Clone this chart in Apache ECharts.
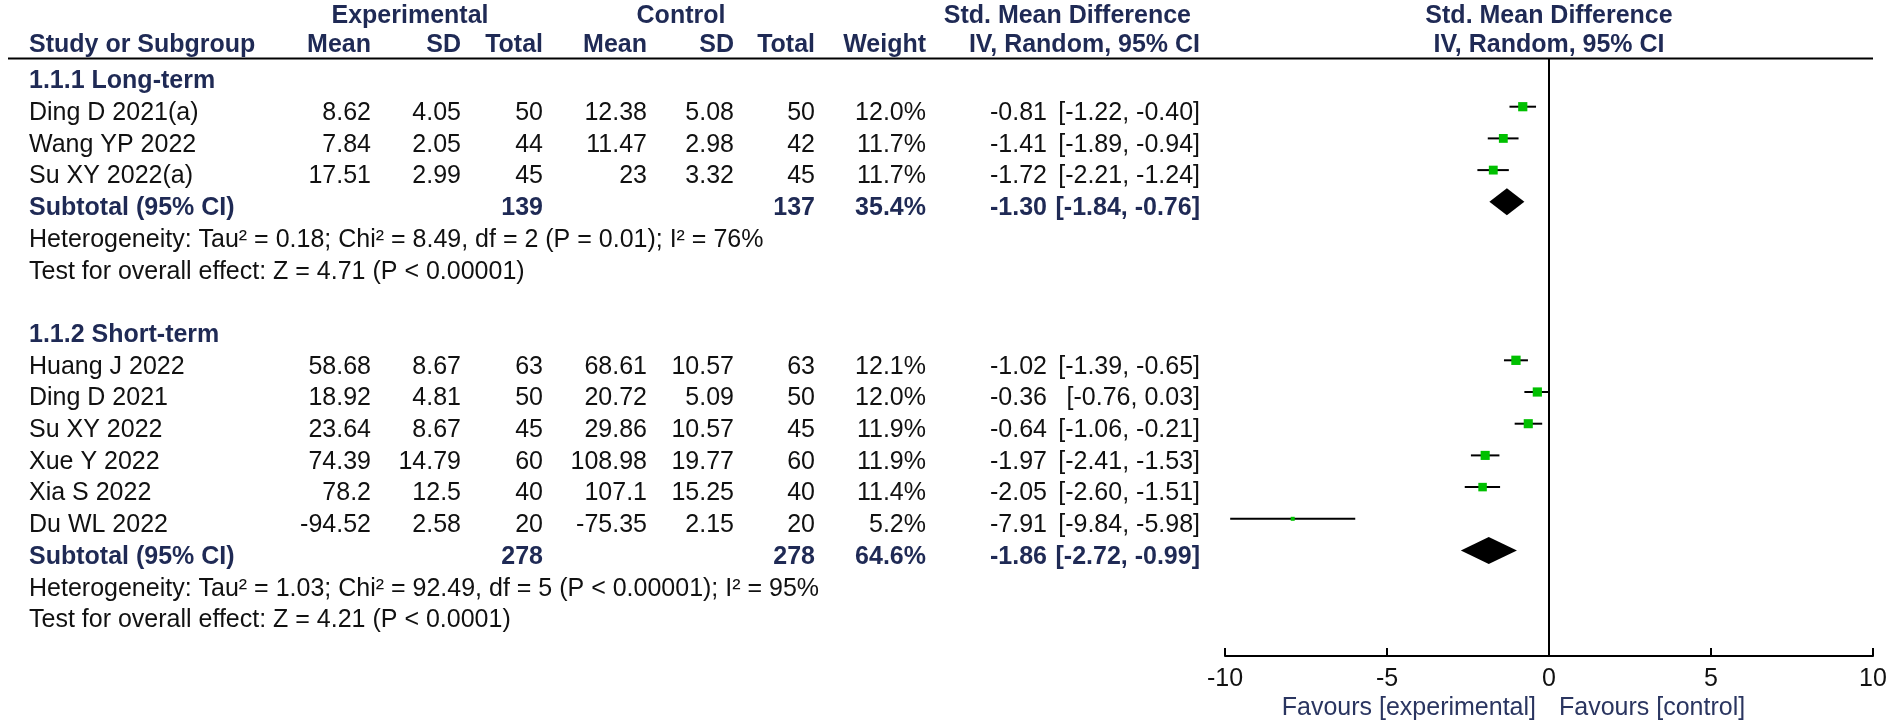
<!DOCTYPE html>
<html>
<head>
<meta charset="utf-8">
<script src="https://cdn.jsdelivr.net/npm/echarts@6/dist/echarts.min.js"></script>
<style>
html,body{margin:0;padding:0;background:#fff;}
#chart{width:1902px;height:727px;}
</style>
</head>
<body>
<div id="chart"></div>
<script>
// ---------------- DATA ----------------
const groupNames = ['1.1.1 Long-term', '1.1.2 Short-term'];
const studyNames = ['Ding D 2021(a)', 'Wang YP 2022', 'Su XY 2022(a)',
  'Huang J 2022', 'Ding D 2021', 'Su XY 2022', 'Xue Y 2022', 'Xia S 2022', 'Du WL 2022'];
const studyGroup = [0, 0, 0, 1, 1, 1, 1, 1, 1];
const expMean = [8.62, 7.84, 17.51, 58.68, 18.92, 23.64, 74.39, 78.2, -94.52];
const expSD = [4.05, 2.05, 2.99, 8.67, 4.81, 8.67, 14.79, 12.5, 2.58];
const expTotal = [50, 44, 45, 63, 50, 45, 60, 40, 20];
const ctrlMean = [12.38, 11.47, 23, 68.61, 20.72, 29.86, 108.98, 107.1, -75.35];
const ctrlSD = [5.08, 2.98, 3.32, 10.57, 5.09, 10.57, 19.77, 15.25, 2.15];
const ctrlTotal = [50, 42, 45, 63, 50, 45, 60, 40, 20];
const weights = [12.0, 11.7, 11.7, 12.1, 12.0, 11.9, 11.9, 11.4, 5.2];
const smd = [-0.81, -1.41, -1.72, -1.02, -0.36, -0.64, -1.97, -2.05, -7.91];
const ciLow = [-1.22, -1.89, -2.21, -1.39, -0.76, -1.06, -2.41, -2.60, -9.84];
const ciHigh = [-0.40, -0.94, -1.24, -0.65, 0.03, -0.21, -1.53, -1.51, -5.98];

const subExpTotal = [139, 278];
const subCtrlTotal = [137, 278];
const subWeight = [35.4, 64.6];
const subSmd = [-1.30, -1.86];
const subLow = [-1.84, -2.72];
const subHigh = [-0.76, -0.99];
const heterogeneityText = [
  'Heterogeneity: Tau\u00B2 = 0.18; Chi\u00B2 = 8.49, df = 2 (P = 0.01); I\u00B2 = 76%',
  'Heterogeneity: Tau\u00B2 = 1.03; Chi\u00B2 = 92.49, df = 5 (P < 0.00001); I\u00B2 = 95%'
];
const overallText = [
  'Test for overall effect: Z = 4.71 (P < 0.00001)',
  'Test for overall effect: Z = 4.21 (P < 0.0001)'
];
const axisTicks = [-10, -5, 0, 5, 10];
const favoursLeft = 'Favours [experimental]';
const favoursRight = 'Favours [control]';

// ---------------- LAYOUT ----------------
const W = 1902, H = 727;
const ROW0_Y = 75, ROW_H = 31.7;
const TEXT_DY = 6.5 / ROW_H;      // table text sits slightly below the marker line
const AXIS_Y = 656;
const yMin = -ROW0_Y / ROW_H;
const yMaxAll = (H - ROW0_Y) / ROW_H;
const yMaxPlot = (AXIS_Y - ROW0_Y) / ROW_H;
const rowOf = y => (y - ROW0_Y) / ROW_H;
const PLOT_L = 1225, PLOT_R = 1873;
const COL = {name: 29, expMean: 371, expSD: 461, expTotal: 543, ctrlMean: 647, ctrlSD: 734,
  ctrlTotal: 815, weight: 926, est: 1047, ci: 1200};
const NAVY = '#1f2a55', INK = '#111111', FAV = '#2a3560';
const FS = 25;
const FONT = '"Liberation Sans", Arial, sans-serif';

const fmt2 = v => v.toFixed(2);
const bracket = (l, h) => '[' + fmt2(l) + ', ' + fmt2(h) + ']';

const texts = [];
const studyRows = [];
const subRows = [];
const T = (x, row, text, align, bold, color) => texts.push({x, row, text, align, bold: !!bold, color: color || (bold ? NAVY : INK)});

// headers (absolute rows)
const H1 = rowOf(16), H2 = rowOf(45), ULINE = rowOf(58.5);
const PC = (PLOT_L + PLOT_R) / 2;
T(410, H1, 'Experimental', 'center', true);
T(681, H1, 'Control', 'center', true);
T(1191, H1, 'Std. Mean Difference', 'right', true);
T(PC, H1, 'Std. Mean Difference', 'center', true);
T(COL.name, H2, 'Study or Subgroup', 'left', true);
T(COL.expMean, H2, 'Mean', 'right', true);
T(COL.expSD, H2, 'SD', 'right', true);
T(COL.expTotal, H2, 'Total', 'right', true);
T(COL.ctrlMean, H2, 'Mean', 'right', true);
T(COL.ctrlSD, H2, 'SD', 'right', true);
T(COL.ctrlTotal, H2, 'Total', 'right', true);
T(COL.weight, H2, 'Weight', 'right', true);
T(COL.ci, H2, 'IV, Random, 95% CI', 'right', true);
T(PC, H2, 'IV, Random, 95% CI', 'center', true);

let row = 0;
groupNames.forEach((g, gi) => {
  const tr = r => r + TEXT_DY;
  T(COL.name, tr(row), g, 'left', true);
  row += 1;
  studyNames.forEach((n, i) => {
    if (studyGroup[i] !== gi) return;
    const y = tr(row);
    T(COL.name, y, n, 'left');
    T(COL.expMean, y, String(expMean[i]), 'right');
    T(COL.expSD, y, String(expSD[i]), 'right');
    T(COL.expTotal, y, String(expTotal[i]), 'right');
    T(COL.ctrlMean, y, String(ctrlMean[i]), 'right');
    T(COL.ctrlSD, y, String(ctrlSD[i]), 'right');
    T(COL.ctrlTotal, y, String(ctrlTotal[i]), 'right');
    T(COL.weight, y, weights[i].toFixed(1) + '%', 'right');
    T(COL.est, y, fmt2(smd[i]), 'right');
    T(COL.ci, y, bracket(ciLow[i], ciHigh[i]), 'right');
    studyRows.push([smd[i], ciLow[i], ciHigh[i], row, weights[i]]);
    row += 1;
  });
  const y = tr(row);
  T(COL.name, y, 'Subtotal (95% CI)', 'left', true);
  T(COL.expTotal, y, String(subExpTotal[gi]), 'right', true);
  T(COL.ctrlTotal, y, String(subCtrlTotal[gi]), 'right', true);
  T(COL.weight, y, subWeight[gi].toFixed(1) + '%', 'right', true);
  T(COL.est, y, fmt2(subSmd[gi]), 'right', true);
  T(COL.ci, y, bracket(subLow[gi], subHigh[gi]), 'right', true);
  subRows.push([subSmd[gi], subLow[gi], subHigh[gi], row]);
  T(COL.name, tr(row + 1), heterogeneityText[gi], 'left');
  T(COL.name, tr(row + 2), overallText[gi], 'left');
  row += 4;
});
const FAV_ROW = rowOf(708);
T(1536, FAV_ROW, favoursLeft, 'right', false, FAV);
T(1559, FAV_ROW, favoursRight, 'left', false, FAV);

const chart = echarts.init(document.getElementById('chart'), null, {renderer: 'canvas'});
const xRange = {min: axisTicks[0], max: axisTicks[axisTicks.length - 1], interval: axisTicks[1] - axisTicks[0]};
chart.setOption({
  backgroundColor: '#ffffff',
  animation: false,
  grid: [
    {left: 0, top: 0, width: W, height: H},
    {left: PLOT_L, top: 0, width: PLOT_R - PLOT_L, height: AXIS_Y}
  ],
  xAxis: [
    {gridIndex: 0, type: 'value', min: 0, max: W, show: false},
    Object.assign({gridIndex: 1, type: 'value',
      axisLine: {show: true, onZero: false, lineStyle: {color: '#000', width: 2}},
      axisTick: {show: true, inside: true, length: 8, lineStyle: {color: '#000', width: 2}},
      axisLabel: {color: INK, fontSize: FS, fontFamily: FONT, margin: 11},
      splitLine: {show: false}}, xRange),
    Object.assign({gridIndex: 1, type: 'value',
      axisLine: {show: false, onZero: false},
      axisTick: {show: true, inside: false, length: 7, lineStyle: {color: '#000', width: 2}},
      axisLabel: {show: false},
      splitLine: {show: false}}, xRange)
  ],
  yAxis: [
    {gridIndex: 0, type: 'value', min: yMin, max: yMaxAll, inverse: true, show: false},
    {gridIndex: 1, type: 'value', min: yMin, max: yMaxPlot, inverse: true, show: false}
  ],
  series: [
    {
      type: 'custom', xAxisIndex: 0, yAxisIndex: 0, silent: true,
      data: [[8, ULINE, PLOT_R]],
      renderItem(params, api) {
        const a = api.coord([api.value(0), api.value(1)]);
        const b = api.coord([api.value(2), api.value(1)]);
        return {type: 'line', shape: {x1: a[0], y1: a[1], x2: b[0], y2: b[1]},
          style: {stroke: '#000', lineWidth: 2}};
      }
    },
    {
      type: 'custom', xAxisIndex: 0, yAxisIndex: 0, silent: true,
      data: texts.map(t => [t.x, t.row]),
      renderItem(params, api) {
        const t = texts[params.dataIndex];
        const p = api.coord([api.value(0), api.value(1)]);
        return {type: 'text', x: p[0], y: p[1],
          style: {text: t.text, x: 0, y: 0, align: t.align, verticalAlign: 'middle',
            font: (t.bold ? 'bold ' : '') + FS + 'px ' + FONT, fill: t.color}};
      }
    },
    {
      type: 'custom', xAxisIndex: 1, yAxisIndex: 1, silent: true, clip: false,
      data: studyRows,
      renderItem(params, api) {
        const c = api.coord([api.value(0), api.value(3)]);
        const l = api.coord([api.value(1), api.value(3)]);
        const h = api.coord([api.value(2), api.value(3)]);
        const w = api.value(4);
        const s = Math.max(4, (w - 4) * 1.15);
        return {type: 'group', children: [
          {type: 'line', shape: {x1: l[0], y1: c[1], x2: h[0], y2: c[1]}, style: {stroke: '#000', lineWidth: 2}},
          {type: 'rect', shape: {x: c[0] - s / 2, y: c[1] - s / 2, width: s, height: s}, style: {fill: '#00c000'}}
        ]};
      },
      markLine: {
        silent: true, symbol: 'none', label: {show: false},
        lineStyle: {color: '#000', width: 2, type: 'solid'},
        data: [[{coord: [0, ULINE]}, {coord: [0, yMaxPlot]}]]
      }
    },
    {
      type: 'custom', xAxisIndex: 1, yAxisIndex: 1, silent: true, clip: false,
      data: subRows,
      renderItem(params, api) {
        const c = api.coord([api.value(0), api.value(3)]);
        const l = api.coord([api.value(1), api.value(3)]);
        const h = api.coord([api.value(2), api.value(3)]);
        const hh = 13.5;
        return {type: 'polygon', shape: {points: [[l[0], c[1]], [c[0], c[1] - hh], [h[0], c[1]], [c[0], c[1] + hh]]},
          style: {fill: '#000'}};
      }
    }
  ]
});
</script>
</body>
</html>
